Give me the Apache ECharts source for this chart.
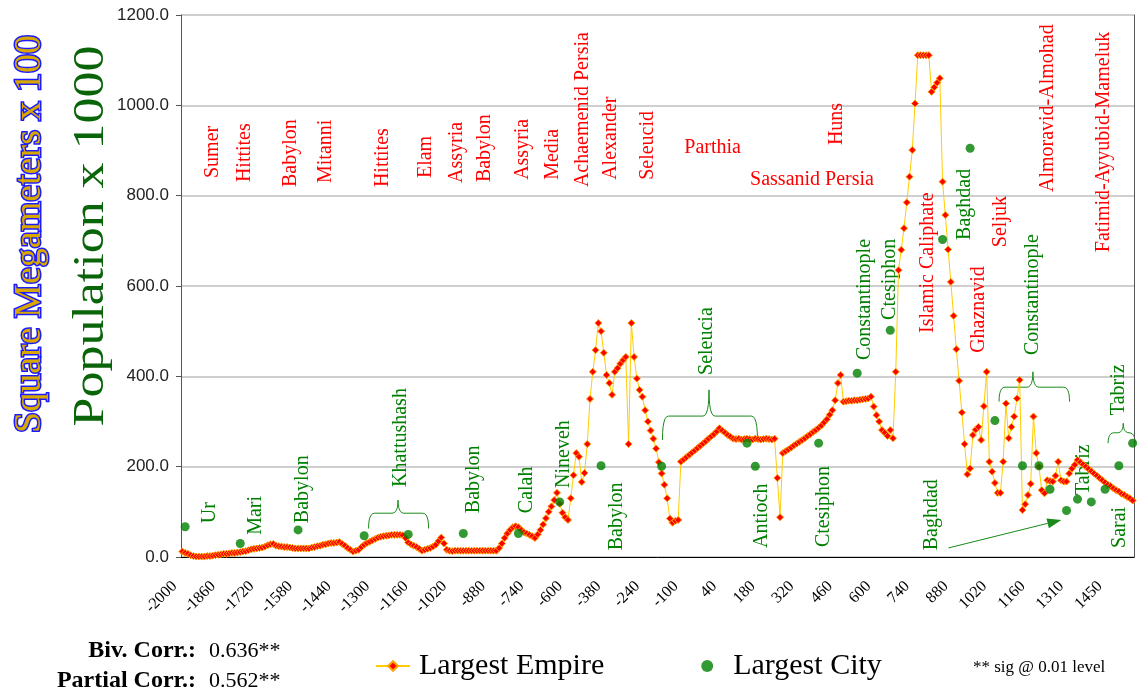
<!DOCTYPE html>
<html>
<head>
<meta charset="utf-8">
<title>Largest Empire vs Largest City</title>
<script src="https://cdn.jsdelivr.net/npm/echarts@6/dist/echarts.min.js"></script>
<style>
  html, body { margin: 0; padding: 0; background: #fff; }
  #chart { width: 1137px; height: 691px; }
</style>
</head>
<body>
<div id="chart"></div>
<script>
// one axis label every 14 categories
const tickLabels = ['-2000', '-1860', '-1720', '-1580', '-1440', '-1300', '-1160', '-1020', '-880', '-740',
    '-600', '-380', '-240', '-100', '40', '180', '320', '460', '600', '740', '880', '1020', '1160', '1310', '1450'];
const CATS_PER_TICK = 14;

// largest empire, square megameters x 100 (one row per labelled step)
const empireValues = [
    12, 9, 7, 4, 2, 1, 1, 1, 1, 2, 2, 3, 4, 5,
    6, 7, 7, 8, 9, 9, 10, 11, 12, 13, 15, 17, 18, 19,
    20, 21, 23, 26, 28, 29, 25, 24, 23, 22, 22, 21, 20, 19,
    19, 19, 19, 19, 19, 21, 22, 24, 25, 27, 28, 30, 31, 31,
    32, 33, 29, 25, 20, 16, 12, 14, 16, 22, 27, 31, 34, 37,
    40, 43, 45, 46, 47, 48, 49, 49, 49, 49, 48, 42, 32, 28,
    25, 22, 18, 14, 16, 18, 20, 23, 27, 35, 43, 30, 16, 14,
    13, 14, 14, 14, 14, 14, 14, 14, 14, 14, 14, 14, 14, 14,
    14, 14, 14, 20, 30, 42, 52, 60, 66, 68, 66, 60, 55, 52,
    49, 46, 42, 50, 60, 72, 86, 100, 112, 126, 142, 118, 98, 88,
    82, 130, 181, 230, 222, 166, 186, 250, 350, 410, 458, 518, 500, 452,
    403, 385, 359, 410, 418, 428, 436, 443, 250, 518, 443, 395, 370, 355,
    325, 300, 280, 262, 240, 210, 185, 160, 130, 85, 76, 80, 82, 211,
    216, 221, 226, 231, 236, 241, 246, 251, 256, 262, 267, 272, 278, 285,
    280, 275, 270, 266, 262, 261, 262, 260, 261, 262, 261, 260, 262, 261,
    260, 261, 262, 261, 260, 262, 175, 88, 230, 234, 238, 242, 247, 251,
    255, 259, 263, 268, 272, 277, 281, 286, 291, 298, 305, 315, 325, 347,
    385, 403, 344, 345, 346, 346, 347, 347, 348, 349, 350, 351, 355, 333,
    314, 300, 281, 275, 268, 281, 263, 410, 635, 680, 728, 785, 842, 901,
    1004, 1111, 1111, 1111, 1111, 1111, 1030, 1040, 1050, 1060, 831, 757, 681, 609,
    534, 460, 390, 320, 250, 183, 196, 270, 282, 288, 259, 334, 410, 211,
    189, 164, 142, 142, 211, 340, 263, 288, 311, 351, 392, 104, 117, 137,
    162, 311, 230, 200, 148, 141, 170, 168, 167, 180, 211, 170, 167, 167,
    185, 196, 204, 215, 210, 205, 200, 195, 190, 185, 180, 175, 170, 165,
    160, 157, 152, 148, 145, 140, 137, 133, 130, 125
];

// largest city, population x 1000 (category index + value)
const cityIdx = [1, 21, 42, 66, 82, 102, 122, 137, 152, 174, 205, 208, 231, 245,
    257, 276, 286, 295, 305, 311, 315, 321, 325, 330, 335, 340, 345];
const cityValues = [67, 30, 60, 47, 50, 52, 52, 122, 202, 201, 252, 201, 252, 407,
    502, 703, 905, 302, 202, 202, 150, 103, 128, 122, 150, 202, 252];

// annotations: [text, category position, value at bottom of text]
const empireNames = [
    ['Sumer', 10.9, 839], ['Hittites', 22.8, 830], ['Babylon', 39.4, 819], ['Mitanni', 52.1, 828],
    ['Hittites', 72.7, 819], ['Elam', 88.5, 839], ['Assyria', 99.7, 828], ['Babylon', 109.7, 830],
    ['Assyria', 123.5, 835], ['Media', 134.3, 835], ['Achaemenid Persia', 145.3, 819],
    ['Alexander', 155.4, 835], ['Seleucid', 168.9, 835], ['Huns', 237.6, 912],
    ['Islamic Caliphate', 270.7, 496], ['Ghaznavid', 289.3, 452], ['Seljuk', 297.3, 686],
    ['Almoravid-Almohad', 314.3, 808], ['Fatimid-Ayyubid-Mameluk', 334.5, 675]
];
const empireNamesFlat = [['Parthia', 192.5, 905], ['Sassanid Persia', 228.6, 835]];
const cityNames = [
    ['Ur', 10.0, 75], ['Mari', 26.7, 49], ['Babylon', 43.6, 75], ['Khattushash', 79.2, 155],
    ['Babylon', 105.7, 97], ['Calah', 125.2, 97], ['Nineveh', 138.5, 153], ['Babylon', 157.6, 15],
    ['Seleucia', 190.5, 403], ['Antioch', 210.4, 20], ['Ctesiphon', 232.7, 22],
    ['Constantinople', 247.9, 436], ['Ctesiphon', 256.8, 525], ['Baghdad', 272.0, 15],
    ['Baghdad', 284.2, 702], ['Constantinople', 308.8, 447], ['Tabriz', 327.2, 137],
    ['Tabriz', 340.0, 314], ['Sarai', 340.5, 20]
];
// braces: from, to, middle (category), base, arm, tip (value)
const braces = [
    [67.6, 89.4, 78.3, 63, 97, 126],
    [174.3, 208.8, 191.2, 259, 312, 370],
    [296.5, 322.1, 308.8, 344, 376, 410],
    [336.1, 345.9, 341.6, 252, 275, 296]
];
const arrow = [[278.1, 20], [319.1, 82]];

const SERIF = '"Liberation Serif", "Times New Roman", serif';
const RED = '#ff0000';
const GREEN = '#008000';

const categories = empireValues.map((v, i) => String(i));

const option = {
    animation: false,
    backgroundColor: '#fff',
    grid: { left: 181, right: 3, top: 15, bottom: 134 },
    legend: {
        left: 370,
        top: 646,
        itemWidth: 34,
        itemHeight: 12,
        itemGap: 97,
        textStyle: { fontFamily: SERIF, fontSize: 30, color: '#000', padding: [0, 0, 0, 4] },
        data: ['Largest Empire', 'Largest City'],
    },
    xAxis: {
        type: 'category',
        data: categories,
        boundaryGap: true,
        axisLine: { lineStyle: { color: '#000', width: 1 } },
        axisTick: { interval: 0, length: 5, lineStyle: { color: '#222' } },
        axisLabel: {
            interval: CATS_PER_TICK - 1,
            rotate: 45,
            margin: 19,
            padding: [0, 11, 0, 0],
            fontFamily: SERIF,
            fontSize: 16,
            color: '#000',
            formatter: (val, idx) => tickLabels[idx / CATS_PER_TICK] || '',
        },
        splitLine: { show: false },
    },
    yAxis: [
        {
            type: 'value',
            min: 0,
            max: 1200,
            interval: 200,
            axisLine: { show: true, lineStyle: { color: '#555' } },
            axisTick: { show: true, length: 5, lineStyle: { color: '#555' } },
            axisLabel: {
                formatter: v => v.toFixed(1),
                fontFamily: '"Liberation Sans", Arial, sans-serif',
                fontSize: 17,
                color: '#222',
                margin: 12,
            },
            splitLine: { lineStyle: { color: '#cfcfcf', width: 2 } },
        },
        {
            // right border of the plot
            type: 'value',
            position: 'right',
            min: 0,
            max: 1200,
            axisLine: { show: true, lineStyle: { color: '#555' } },
            axisTick: { show: false },
            axisLabel: { show: false },
            splitLine: { show: false },
        },
    ],
    series: [
        {
            name: 'Largest Empire',
            type: 'line',
            data: empireValues,
            symbol: 'diamond',
            symbolSize: 7,
            showAllSymbol: true,
            lineStyle: { color: '#ffcc00', width: 1 },
            itemStyle: { color: RED, borderColor: '#ffa000', borderWidth: 1 },
            z: 3,
        },
        {
            name: 'Largest City',
            type: 'scatter',
            data: cityIdx.map((c, k) => [c, cityValues[k]]),
            symbol: 'circle',
            symbolSize: 9,
            itemStyle: { color: GREEN },
            z: 4,
        },
    ],
};

const chart = echarts.init(document.getElementById('chart'));
chart.setOption(option);

// map (category position, value) to pixels through the axes
const p0 = chart.convertToPixel({ xAxisIndex: 0, yAxisIndex: 0 }, [0, 0]);
const p1 = chart.convertToPixel({ xAxisIndex: 0, yAxisIndex: 0 }, [1, 1200]);
const toPx = (i, v) => [p0[0] + (p1[0] - p0[0]) * i, p0[1] + (p1[1] - p0[1]) * v / 1200];

function vText(text, i, v, fill) {
    const [x, y] = toPx(i, v);
    return {
        type: 'text', x, y, rotation: Math.PI / 2, silent: true,
        style: { text, fill, fontFamily: SERIF, fontSize: 20, align: 'left', verticalAlign: 'middle' },
    };
}

function quad(a, c, b, n) {
    const pts = [];
    for (let k = 0; k <= n; k++) {
        const t = k / n;
        pts.push([
            (1 - t) * (1 - t) * a[0] + 2 * t * (1 - t) * c[0] + t * t * b[0],
            (1 - t) * (1 - t) * a[1] + 2 * t * (1 - t) * c[1] + t * t * b[1],
        ]);
    }
    return pts;
}

function brace([from, to, mid, base, arm, tip]) {
    const [L, yb] = toPx(from, base);
    const R = toPx(to, base)[0];
    const [C, yh] = toPx(mid, arm);
    const yt = toPx(mid, tip)[1];
    const r = 6;
    const pts = [].concat(
        quad([L, yb], [L, yh], [L + r, yh], 6),
        quad([C - r, yh], [C, yh], [C, yt], 6),
        quad([C, yt], [C, yh], [C + r, yh], 6),
        quad([R - r, yh], [R, yh], [R, yb], 6)
    );
    return { type: 'polyline', silent: true, shape: { points: pts }, style: { stroke: '#1a8a1a', lineWidth: 1, fill: null } };
}

const graphics = [];
empireNames.forEach(([t, i, v]) => graphics.push(vText(t, i, v, RED)));
cityNames.forEach(([t, i, v]) => graphics.push(vText(t, i, v, GREEN)));
empireNamesFlat.forEach(([t, i, v]) => {
    const [x, y] = toPx(i, v);
    graphics.push({
        type: 'text', x, y, silent: true,
        style: { text: t, fill: RED, fontFamily: SERIF, fontSize: 20, align: 'center', verticalAlign: 'middle' },
    });
});
braces.forEach(b => graphics.push(brace(b)));

// arrow from Baghdad towards Tabriz
const a0 = toPx(arrow[0][0], arrow[0][1]);
const a1 = toPx(arrow[1][0], arrow[1][1]);
const ang = Math.atan2(a1[1] - a0[1], a1[0] - a0[0]);
const hl = 14, hw = 5;
const back = [a1[0] - hl * Math.cos(ang), a1[1] - hl * Math.sin(ang)];
graphics.push({ type: 'line', silent: true, shape: { x1: a0[0], y1: a0[1], x2: back[0], y2: back[1] }, style: { stroke: '#1a8a1a', lineWidth: 1 } });
graphics.push({
    type: 'polygon', silent: true,
    shape: { points: [a1, [back[0] + hw * Math.sin(ang), back[1] - hw * Math.cos(ang)], [back[0] - hw * Math.sin(ang), back[1] + hw * Math.cos(ang)]] },
    style: { fill: '#1a8a1a' },
});

// axis titles
graphics.push({
    type: 'text', x: 30, y: 234, rotation: Math.PI / 2, silent: true,
    style: { text: 'Square Megameters x 100', fill: '#d8a800', stroke: '#1c1cff', lineWidth: 3,
        fontFamily: SERIF, fontSize: 38, align: 'center', verticalAlign: 'middle' },
});
graphics.push({
    type: 'text', x: 91, y: 236, rotation: Math.PI / 2, scaleX: 1.18, silent: true,
    style: { text: 'Population x 1000', fill: '#0a640a', fontFamily: SERIF, fontSize: 44,
        align: 'center', verticalAlign: 'middle' },
});

// correlation notes
const note = (text, x, y, align, weight, size) => ({
    type: 'text', x, y, silent: true,
    style: { text, fill: '#000', fontFamily: SERIF, fontSize: size, fontWeight: weight, align, verticalAlign: 'middle' },
});
graphics.push(note('Biv. Corr.:', 196, 651, 'right', 'bold', 24));
graphics.push(note('0.636**', 209, 651, 'left', 'normal', 22));
graphics.push(note('Partial Corr.:', 196, 681, 'right', 'bold', 24));
graphics.push(note('0.562**', 209, 681, 'left', 'normal', 22));
graphics.push(note('** sig @ 0.01 level', 973, 668, 'left', 'normal', 17));

chart.setOption({ graphic: graphics });
</script>
</body>
</html>
